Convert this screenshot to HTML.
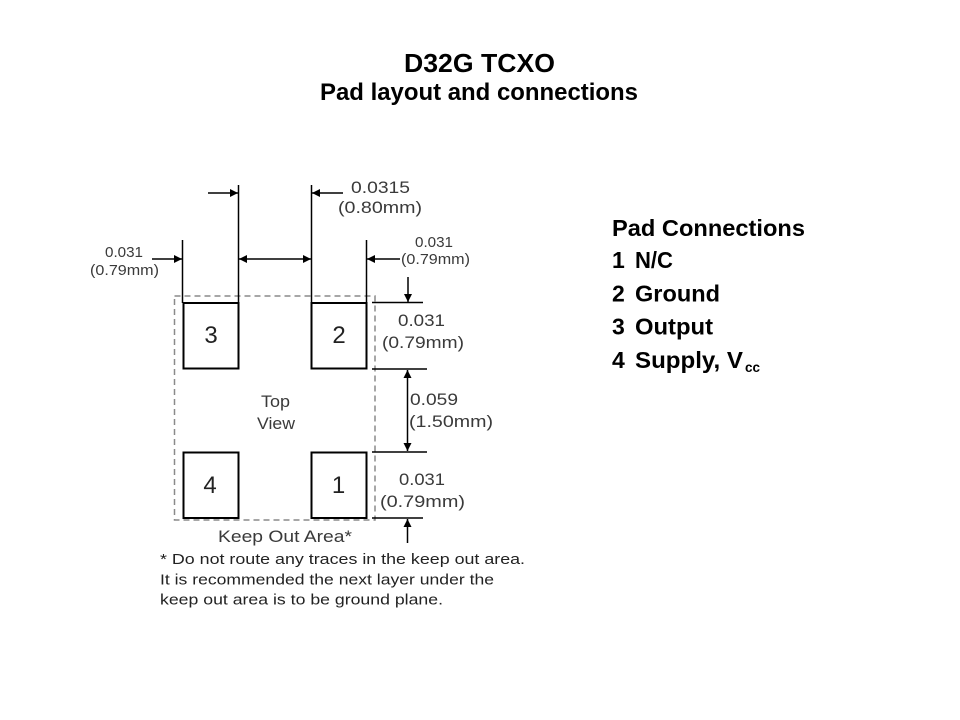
<!DOCTYPE html>
<html><head><meta charset="utf-8"><style>
html,body{margin:0;padding:0;background:#fff;}
svg{display:block;}
</style></head><body>
<svg width="960" height="720" viewBox="0 0 960 720" xmlns="http://www.w3.org/2000/svg">
<defs>
<marker id="ah" viewBox="0 0 10 10" refX="10" refY="5" markerWidth="8" markerHeight="8" markerUnits="userSpaceOnUse" orient="auto-start-reverse">
<path d="M0,0 L10,5 L0,10 z" fill="#000"/>
</marker>
</defs>
<rect width="960" height="720" fill="#fff"/>
<!-- Title -->
<g font-family="Liberation Sans, Arial, sans-serif" font-weight="bold" fill="#000" text-anchor="middle">
<text x="479.5" y="72" font-size="26" textLength="151" lengthAdjust="spacingAndGlyphs">D32G TCXO</text>
<text x="479" y="100" font-size="24" textLength="318" lengthAdjust="spacingAndGlyphs">Pad layout and connections</text>
</g>
<!-- Pad connections list -->
<g font-family="Liberation Sans, Arial, sans-serif" font-weight="bold" fill="#000" font-size="23">
<text x="612" y="236" textLength="193" lengthAdjust="spacingAndGlyphs">Pad Connections</text>
<text x="612" y="268">1</text><text x="635" y="268" textLength="38" lengthAdjust="spacingAndGlyphs">N/C</text>
<text x="612" y="301.5">2</text><text x="635" y="301.5" textLength="85" lengthAdjust="spacingAndGlyphs">Ground</text>
<text x="612" y="334.5">3</text><text x="635" y="334.5" textLength="78" lengthAdjust="spacingAndGlyphs">Output</text>
<text x="612" y="368">4</text><text x="635" y="368" textLength="108" lengthAdjust="spacingAndGlyphs">Supply, V</text>
<text x="745" y="372" font-size="14" textLength="15" lengthAdjust="spacingAndGlyphs">cc</text>
</g>
<!-- Keep out area dashed -->
<rect x="174.5" y="296" width="200.5" height="224" fill="none" stroke="#8a8a8a" stroke-width="1.5" stroke-dasharray="6 4"/>
<!-- Pads -->
<g fill="#fff" stroke="#000" stroke-width="2">
<rect x="183.5" y="303" width="55" height="65.5"/>
<rect x="311.5" y="303" width="55" height="65.5"/>
<rect x="183.5" y="452.5" width="55" height="65.5"/>
<rect x="311.5" y="452.5" width="55" height="65.5"/>
</g>
<g font-family="Liberation Sans, Arial, sans-serif" font-size="24" fill="#222" text-anchor="middle">
<text x="211" y="343">3</text>
<text x="339" y="343">2</text>
<text x="210" y="493">4</text>
<text x="338.5" y="493">1</text>
</g>
<!-- Extension lines -->
<g stroke="#000" stroke-width="1.5" fill="none">
<line x1="182.5" y1="240" x2="182.5" y2="303"/>
<line x1="238.5" y1="185" x2="238.5" y2="303"/>
<line x1="311.5" y1="185" x2="311.5" y2="303"/>
<line x1="366.5" y1="240" x2="366.5" y2="303"/>
<line x1="372" y1="302.5" x2="423" y2="302.5"/>
<line x1="372" y1="369" x2="427" y2="369"/>
<line x1="372" y1="452" x2="427" y2="452"/>
<line x1="372" y1="518" x2="423" y2="518"/>
</g>
<!-- Arrows -->
<g stroke="#000" stroke-width="1.5" fill="none">
<line x1="208" y1="193" x2="238" y2="193" marker-end="url(#ah)"/>
<line x1="343" y1="193" x2="312" y2="193" marker-end="url(#ah)"/>
<line x1="239" y1="259" x2="311" y2="259" marker-start="url(#ah)" marker-end="url(#ah)"/>
<line x1="152" y1="259" x2="182" y2="259" marker-end="url(#ah)"/>
<line x1="400" y1="259" x2="367" y2="259" marker-end="url(#ah)"/>
<line x1="408" y1="277" x2="408" y2="302" marker-end="url(#ah)"/>
<line x1="407.5" y1="370" x2="407.5" y2="451" marker-start="url(#ah)" marker-end="url(#ah)"/>
<line x1="407.5" y1="543" x2="407.5" y2="519" marker-end="url(#ah)"/>
</g>
<!-- Dimension labels -->
<g font-family="Liberation Sans, Arial, sans-serif" fill="#3a3a3a" lengthAdjust="spacingAndGlyphs">
<text x="351" y="193" font-size="16.5" textLength="59" lengthAdjust="spacingAndGlyphs">0.0315</text>
<text x="338" y="213" font-size="16.5" textLength="84" lengthAdjust="spacingAndGlyphs">(0.80mm)</text>
<text x="105" y="257" font-size="15" textLength="38" lengthAdjust="spacingAndGlyphs">0.031</text>
<text x="90" y="275" font-size="15" textLength="69" lengthAdjust="spacingAndGlyphs">(0.79mm)</text>
<text x="415" y="247" font-size="15" textLength="38" lengthAdjust="spacingAndGlyphs">0.031</text>
<text x="401" y="264" font-size="15" textLength="69" lengthAdjust="spacingAndGlyphs">(0.79mm)</text>
<text x="398" y="326" font-size="17" textLength="47" lengthAdjust="spacingAndGlyphs">0.031</text>
<text x="382" y="348" font-size="17" textLength="82" lengthAdjust="spacingAndGlyphs">(0.79mm)</text>
<text x="410" y="405" font-size="17" textLength="48" lengthAdjust="spacingAndGlyphs">0.059</text>
<text x="409" y="427" font-size="17" textLength="84" lengthAdjust="spacingAndGlyphs">(1.50mm)</text>
<text x="399" y="485" font-size="17" textLength="46" lengthAdjust="spacingAndGlyphs">0.031</text>
<text x="380" y="507" font-size="17" textLength="85" lengthAdjust="spacingAndGlyphs">(0.79mm)</text>
<text x="261" y="407" font-size="17" textLength="29" lengthAdjust="spacingAndGlyphs">Top</text>
<text x="257" y="429" font-size="17" textLength="38" lengthAdjust="spacingAndGlyphs">View</text>
<text x="218" y="542" font-size="17" textLength="134" lengthAdjust="spacingAndGlyphs">Keep Out Area*</text>
</g>
<!-- Footnote -->
<g font-family="Liberation Sans, Arial, sans-serif" fill="#222" font-size="15">
<text x="160" y="564" textLength="365" lengthAdjust="spacingAndGlyphs">* Do not route any traces in the keep out area.</text>
<text x="160" y="584.5" textLength="334" lengthAdjust="spacingAndGlyphs">It is recommended the next layer under the</text>
<text x="160" y="604.5" textLength="283" lengthAdjust="spacingAndGlyphs">keep out area is to be ground plane.</text>
</g>
</svg>
</body></html>
